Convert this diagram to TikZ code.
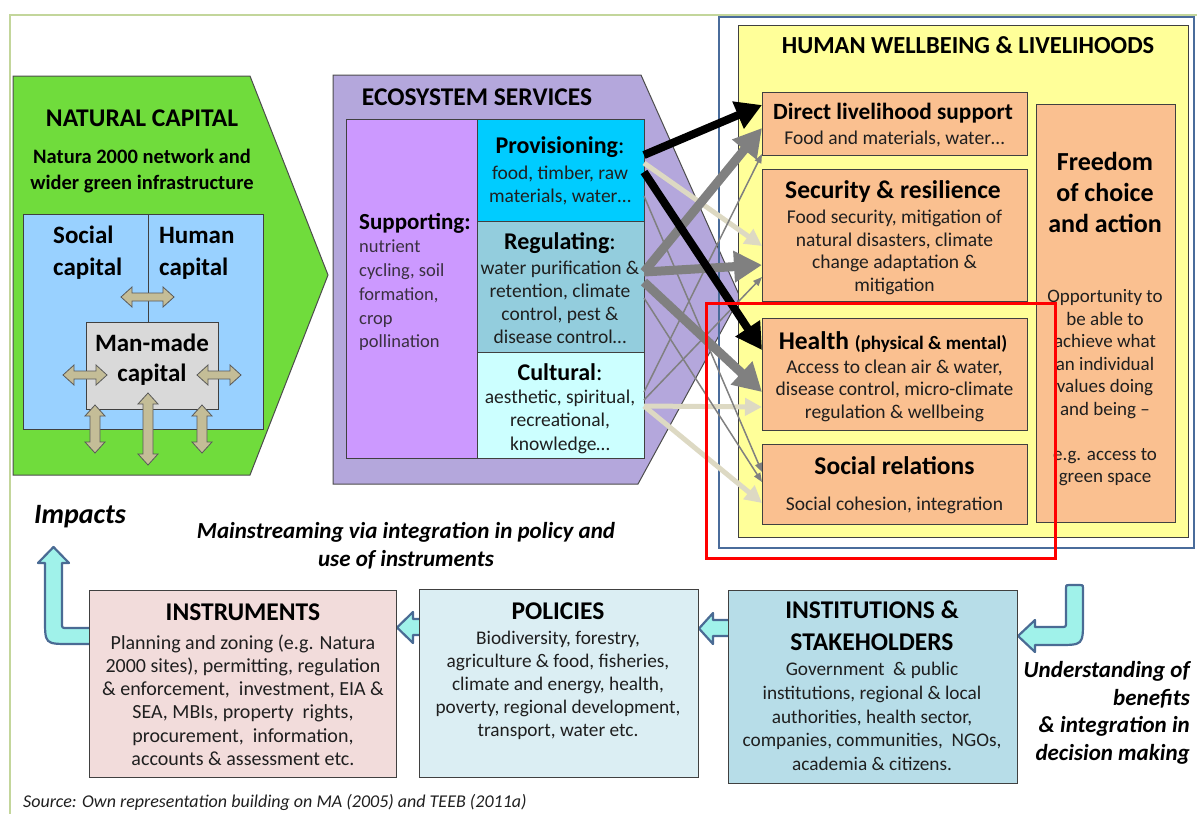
\documentclass[tikz,border=0pt]{standalone}
\usepackage{fontspec}
\setmainfont{Carlito}
\usetikzlibrary{arrows.meta}
\definecolor{ncgreen}{HTML}{70DC3C}
\definecolor{ncblue}{HTML}{99D1FF}
\definecolor{mmgray}{HTML}{D9D9D9}
\definecolor{nctan}{HTML}{C4BD97}
\definecolor{espurple}{HTML}{B4A7DC}
\definecolor{csupp}{HTML}{CC99FF}
\definecolor{cprov}{HTML}{00CCFF}
\definecolor{cregu}{HTML}{93CDDD}
\definecolor{ccult}{HTML}{CCFFFF}
\definecolor{hwyellow}{HTML}{FFFF99}
\definecolor{hwbox}{HTML}{FAC090}
\definecolor{frameblue}{HTML}{4A6C9B}
\definecolor{cinstr}{HTML}{F2DCDB}
\definecolor{cpoli}{HTML}{DBEEF3}
\definecolor{cinst}{HTML}{B7DDE8}
\definecolor{cyanfill}{HTML}{A0F2EA}
\definecolor{cyanline}{HTML}{4A6B94}
\definecolor{framegreen}{HTML}{C3D69B}
\definecolor{beige}{HTML}{DDD9C3}
\definecolor{midgray}{HTML}{808080}
\definecolor{txt}{HTML}{1F1F1F}
\definecolor{supptxt}{HTML}{3A3040}
\newcommand{\ncDblH}[3]{\filldraw[dblarr] (#1,#3) -- (#1+11,#3-10) -- (#1+11,#3-4) -- (#2-11,#3-4) -- (#2-11,#3-10) -- (#2,#3) -- (#2-11,#3+10) -- (#2-11,#3+4) -- (#1+11,#3+4) -- (#1+11,#3+10) -- cycle;}
\newcommand{\ncDblV}[3]{\filldraw[dblarr] (#1,#2) -- (#1+10,#2+11) -- (#1+5,#2+11) -- (#1+5,#3-11) -- (#1+10,#3-11) -- (#1,#3) -- (#1-10,#3-11) -- (#1-5,#3-11) -- (#1-5,#2+11) -- (#1-10,#2+11) -- cycle;}
\tikzset{
  rbox/.style={draw=black!75, line width=1pt, inner sep=0pt, outer sep=0pt, anchor=north west},
  dblarr/.style={fill=nctan, draw=black!65, line width=0.8pt},
  cyarr/.style={fill=cyanfill, draw=cyanline, line width=2.2pt, line join=round},
  head/.style={font=\bfseries\fontsize{25.5}{30}\selectfont, inner sep=0pt, text=black},
  sub/.style={font=\bfseries\fontsize{25.5}{30}\selectfont, inner sep=0pt, text=black, align=center},
  body/.style={font=\fontsize{19.5}{23}\selectfont, inner sep=0pt, text=txt, align=center},
  estl/.style={inner sep=0pt, font=\fontsize{24}{28}\selectfont},
  bit/.style={font=\bfseries\itshape\fontsize{23}{28}\selectfont, inner sep=0pt, text=black},
  blk/.style={draw=black, line width=8pt, -{Triangle[length=26pt,width=28pt]}},
  gry/.style={draw=midgray, line width=9pt, -{Triangle[length=28pt,width=30pt]}},
  bge/.style={draw=beige, line width=5pt, -{Triangle[length=17pt,width=17pt]}},
  thn/.style={draw=midgray, line width=1.5pt, -{Triangle[length=9pt,width=7pt]}},
}
\begin{document}
\begin{tikzpicture}[x=1pt,y=-1pt]
\useasboundingbox (0,0) rectangle (1197,814);
% outer frame
\draw[framegreen, line width=2pt] (10,830) -- (10,15) -- (1210,15);

% ---------------- NATURAL CAPITAL
\filldraw[fill=ncgreen, draw=black!70, line width=1pt] (13,76) -- (250,76) -- (328,275) -- (250,475) -- (13,475) -- cycle;
\node[head] (ncT) at (142,118) {NATURAL CAPITAL};
\node[font=\bfseries\fontsize{20.5}{26}\selectfont, inner sep=0pt, align=center] (ncS) at (142,171) {Natura 2000 network and\\wider green infrastructure};
\node[rbox, fill=ncblue, minimum width=240pt, minimum height=215pt] (ncB) at (23,214) {};
\draw[black!75, line width=1pt] (ncB.north) ++(5,0) coordinate (vtop) -- (vtop |- 0,322);
\node[rbox, fill=mmgray, minimum width=132pt, minimum height=87pt] (mm) at (86,322) {};
\node[font=\bfseries\fontsize{25}{32}\selectfont, inner sep=0pt, align=left, anchor=west] (socC) at (53,253) {Social\\capital};
\node[font=\bfseries\fontsize{25}{32}\selectfont, inner sep=0pt, align=left, anchor=west] (humC) at (159,253) {Human\\capital};
\node[font=\bfseries\fontsize{25}{30}\selectfont, inner sep=0pt, align=center] (mmT) at (152,360) {Man-made\\capital};
\ncDblH{121}{174}{297}
\ncDblH{63}{107}{375}
\ncDblH{197}{241}{375}
\ncDblV{95}{405}{453}
\ncDblV{148}{393}{465}
\ncDblV{202}{405}{453}

% ---------------- ECOSYSTEM SERVICES
\filldraw[fill=espurple, draw=black!70, line width=1pt] (333,75) -- (641,75) -- (740,297) -- (638,484) -- (333,484) -- cycle;
\node[head] (esT) at (477,97) {ECOSYSTEM SERVICES};
\node[rbox, fill=csupp, minimum width=131pt, minimum height=339pt] (supp) at (346,119) {};
\node[rbox, fill=cprov, minimum width=167pt, minimum height=102pt] (prov) at (477,119) {};
\node[rbox, fill=cregu, minimum width=167pt, minimum height=131pt] (regu) at (477,221) {};
\node[rbox, fill=ccult, minimum width=167pt, minimum height=106pt] (cult) at (477,352) {};
\node[font=\bfseries\fontsize{23}{27}\selectfont, inner sep=0pt, anchor=west] (suppT) at (359,223) {Supporting:};
\node[body, text=supptxt, align=left, anchor=west, font=\fontsize{18.5}{23.75}\selectfont] (suppB) at (359,295.5) {nutrient\\cycling, soil\\formation,\\crop\\pollination};
\node[estl] (provT) at (560,147) {\textbf{Provisioning}:};
\node[body] (provB) at (560,185) {food, timber, raw\\materials, water…};
\node[estl] (reguT) at (560,243) {\textbf{Regulating}:};
\node[body] (reguB) at (560,302.5) {water purification \&\\retention, climate\\control, pest \&\\disease control…};
\node[estl] (cultT) at (560,372) {\textbf{Cultural}:};
\node[body, font=\fontsize{19.5}{23.5}\selectfont] (cultB) at (560,421.5) {aesthetic, spiritual,\\recreational,\\knowledge…};

% ---------------- HUMAN WELLBEING
\draw[frameblue, line width=2.5pt] (719,17) rectangle (1194,548);
\node[rbox, fill=hwyellow, minimum width=450pt, minimum height=512pt] (hw) at (738,25) {};
\node[head, font=\bfseries\fontsize{24.5}{30}\selectfont] (hwT) at (968,45) {HUMAN WELLBEING \& LIVELIHOODS};
\node[rbox, fill=hwbox, minimum width=265pt, minimum height=63pt] (dls) at (762,92) {};
\node[rbox, fill=hwbox, minimum width=265pt, minimum height=132pt] (sec) at (762,169) {};
\node[rbox, fill=hwbox, minimum width=265pt, minimum height=112pt] (hlth) at (762,318) {};
\node[rbox, fill=hwbox, minimum width=265pt, minimum height=80pt] (soc) at (762,444) {};
\node[rbox, fill=hwbox, minimum width=139pt, minimum height=418pt] (fr) at (1036,104) {};
\node[inner sep=0pt, font=\bfseries\fontsize{23.3}{27}\selectfont] (dlsT) at (893,113) {Direct livelihood support};
\node[body] (dlsB) at (894.5,139) {Food and materials, water…};
\node[sub] (secT) at (893,192) {Security \& resilience};
\node[body, font=\fontsize{19.5}{22.5}\selectfont] (secB) at (894.5,252.5) {Food security, mitigation of\\natural disasters, climate\\change adaptation \&\\mitigation};
\node[sub] (hlthT) at (893,342) {Health {\fontsize{19}{22}\selectfont (physical \& mental)}};
\node[body, font=\fontsize{19.5}{22.5}\selectfont] (hlthB) at (894.5,390.5) {Access to clean air \& water,\\disease control, micro-climate\\regulation \& wellbeing};
\node[sub] (srT) at (894.5,466) {Social relations};
\node[body] (srB) at (894.5,505) {Social cohesion, integration};
\node[font=\bfseries\fontsize{26}{31}\selectfont, inner sep=0pt, align=center] (frT) at (1105,192) {Freedom\\of choice\\and action};
\node[body, font=\fontsize{19}{22.5}\selectfont] (frB) at (1105,388) {Opportunity to\\be able to\\achieve what\\an individual\\values doing\\and being –\\[22.5pt]e.g. access to\\green space};

% ---------------- ES -> HW arrows
\draw[bge] (prov.east |- 0,163) -- (sec.west |- 0,246);
\draw[bge] (cult.east |- 0,406) -- (hlth.west |- 0,407);
\draw[bge] (cult.east |- 0,406) -- (soc.west |- 0,503);
\draw[thn] (prov.east |- 0,196) -- (soc.west |- 0,472);
\draw[thn] (regu.east |- 0,298) -- (soc.west |- 0,482);
\draw[thn] (cult.east |- 0,392) -- (dls.west |- 0,154);
\draw[thn] (cult.east |- 0,400) -- (sec.west |- 0,277);
\draw[gry] (regu.east |- 0,272) -- (dls.west |- 0,128);
\draw[gry] (regu.east |- 0,272) -- (sec.west |- 0,265);
\draw[gry] (regu.east |- 0,282) -- (hlth.west |- 0,392);
\draw[blk] (prov.east |- 0,155) -- (dls.west |- 0,105);
\draw[blk] (prov.east |- 0,172) -- (hlth.west |- 0,350);

% red highlight
\draw[red, line width=3pt] (706,303) rectangle (1055,558);

% ---------------- bottom row
\filldraw[cyarr] (100,628) -- (67,628) .. controls (62,628) .. (62,623) -- (62,563) -- (69,563) -- (53.5,547) -- (38,563) -- (45,563) -- (45,619) .. controls (45,644) .. (70,644) -- (100,644) -- cycle;
\filldraw[cyarr] (425,619) -- (413,619) -- (413,612) -- (397,627.5) -- (413,643) -- (413,635) -- (425,635) -- cycle;
\filldraw[cyarr] (735,620) -- (713,620) -- (713,613) -- (699,628.5) -- (713,644) -- (713,636) -- (735,636) -- cycle;
\filldraw[cyarr] (1035,627) -- (1061,627) .. controls (1066,627) .. (1066,622) -- (1066,588) .. controls (1066,585) .. (1069,585) -- (1080,585) .. controls (1083,585) .. (1083,588) -- (1083,620) .. controls (1083,645) .. (1058,645) -- (1035,645) -- (1035,652) -- (1018,636) -- (1035,620) -- cycle;

\node[rbox, fill=cinstr, minimum width=307pt, minimum height=187pt] (ins) at (89,590) {};
\node[rbox, fill=cpoli, minimum width=279pt, minimum height=188pt] (pol) at (419,589) {};
\node[rbox, fill=cinst, minimum width=289pt, minimum height=193pt] (ist) at (728,590) {};
\node[head] (insT) at (243,612) {INSTRUMENTS};
\node[body, font=\fontsize{20}{23.2}\selectfont] (insB) at (243,700) {Planning and zoning (e.g. Natura\\2000 sites), permitting, regulation\\\& enforcement,~ investment, EIA \&\\SEA, MBIs, property~ rights,\\procurement,~ information,\\accounts \& assessment etc.};
\node[head] (polT) at (558,611) {POLICIES};
\node[body, font=\fontsize{19.3}{23}\selectfont] (polB) at (558,685) {Biodiversity, forestry,\\agriculture \& food, fisheries,\\climate and energy, health,\\poverty, regional development,\\transport, water etc.};
\node[head, align=center, font=\bfseries\fontsize{25.5}{32}\selectfont] (istT) at (872,626) {INSTITUTIONS \&\\STAKEHOLDERS};
\node[body, font=\fontsize{19.3}{23.75}\selectfont] (istB) at (872,716.5) {Government~ \& public\\institutions, regional \& local\\authorities, health sector,\\companies, communities,~ NGOs,\\academia \& citizens.};

\node[bit, align=right, anchor=east, font=\bfseries\itshape\fontsize{23}{27.7}\selectfont] (undT) at (1190,713) {Understanding of\\benefits\\\& integration in\\decision making};
\node[bit, align=center] (mainT) at (406,546) {Mainstreaming via integration in policy and\\use of instruments};
\node[bit, font=\bfseries\itshape\fontsize{28}{32}\selectfont] (impT) at (80,517) {Impacts};
\node[inner sep=0pt, anchor=west, font=\itshape\fontsize{18}{21}\selectfont, text=txt] (srcT) at (23,802) {Source: Own representation building on MA (2005) and TEEB (2011a)};
\end{tikzpicture}
\end{document}
